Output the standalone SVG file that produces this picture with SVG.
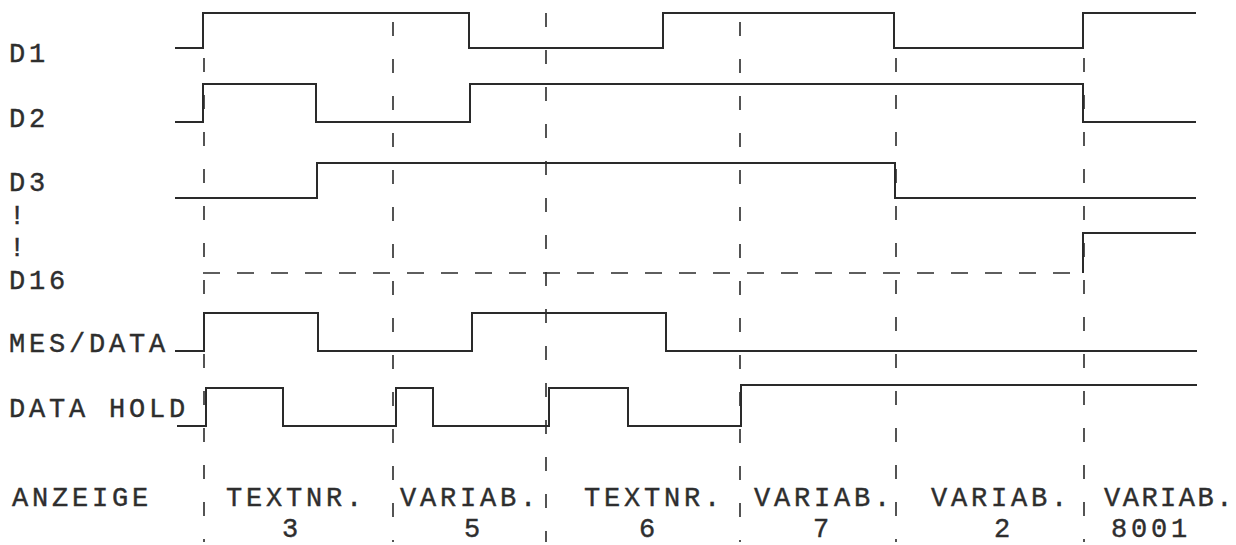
<svg xmlns="http://www.w3.org/2000/svg" width="1236" height="545" viewBox="0 0 1236 545">
<style>
.bg{fill:#ffffff}
.wave{fill:none;stroke:#2a2a2a;stroke-width:2;stroke-linejoin:miter}
.dashh{fill:none;stroke:#2a2a2a;stroke-width:1.6;stroke-dasharray:17 17}
.grid{fill:none;stroke:#2a2a2a;stroke-width:1.6;stroke-dasharray:14 23}
.lbl{font-family:"Liberation Mono","DejaVu Sans Mono",monospace;font-size:27px;letter-spacing:3.8px;fill:#2e2e2e;stroke:#2e2e2e;stroke-width:0.4}
.num{font-family:"Liberation Mono","DejaVu Sans Mono",monospace;font-size:27px;fill:#2e2e2e;stroke:#2e2e2e;stroke-width:0.4;text-anchor:middle}
</style>
<rect class="bg" x="0" y="0" width="1236" height="545"/>
<g id="connectors">
  <line class="grid" x1="204" y1="58" x2="204" y2="542"/>
  <line class="grid" x1="393" y1="22" x2="393" y2="542"/>
  <line class="grid" x1="546" y1="13" x2="546" y2="542"/>
  <line class="grid" x1="740" y1="22" x2="740" y2="542"/>
  <line class="grid" x1="896" y1="58" x2="896" y2="542"/>
  <line class="grid" x1="1084" y1="58" x2="1084" y2="542"/>
</g>
<g id="D1">
  <text class="lbl" x="9" y="62">D1</text>
  <path class="wave" d="M175,48 H203 V13 H469 V48 H663 V13 H894 V48 H1083 V13 H1196"/>
</g>
<g id="D2">
  <text class="lbl" x="9" y="127">D2</text>
  <path class="wave" d="M175,122 H203 V84 H316 V122 H470 V84 H1083 V122 H1196"/>
</g>
<g id="D3">
  <text class="lbl" x="9" y="191">D3</text>
  <path class="wave" d="M175,198 H317 V163 H895 V198 H1196"/>
</g>
<g id="ellipsis">
  <text class="lbl" x="9" y="224">!</text>
  <text class="lbl" x="9" y="256">!</text>
</g>
<g id="D16">
  <text class="lbl" x="9" y="289">D16</text>
  <path class="dashh" d="M203,273 H1083"/>
  <path class="wave" d="M1083,273 V233 H1196"/>
</g>
<g id="MES_DATA">
  <text class="lbl" x="9" y="352">MES/DATA</text>
  <path class="wave" d="M175,351 H204 V313 H318 V351 H472 V313 H666 V351 H1197"/>
</g>
<g id="DATA_HOLD">
  <text class="lbl" x="9" y="417">DATA HOLD</text>
  <path class="wave" d="M177,426 H206 V388 H283 V426 H396 V388 H433 V426 H549 V388 H628 V426 H741 V385 H1197"/>
</g>
<g id="ANZEIGE">
  <text class="lbl" x="12" y="506">ANZEIGE</text>
  <text class="lbl" x="226" y="506">TEXTNR.</text>
  <text class="num" x="290" y="537">3</text>
  <text class="lbl" x="400" y="506">VARIAB.</text>
  <text class="num" x="472" y="537">5</text>
  <text class="lbl" x="584" y="506">TEXTNR.</text>
  <text class="num" x="647" y="537">6</text>
  <text class="lbl" x="754" y="506">VARIAB.</text>
  <text class="num" x="821" y="537">7</text>
  <text class="lbl" x="931" y="506">VARIAB.</text>
  <text class="num" x="1002" y="537">2</text>
  <text class="lbl" x="1104" y="506" style="letter-spacing:2.5px">VARIAB.</text>
  <text class="lbl" x="1111" y="537">8001</text>
</g>
</svg>
